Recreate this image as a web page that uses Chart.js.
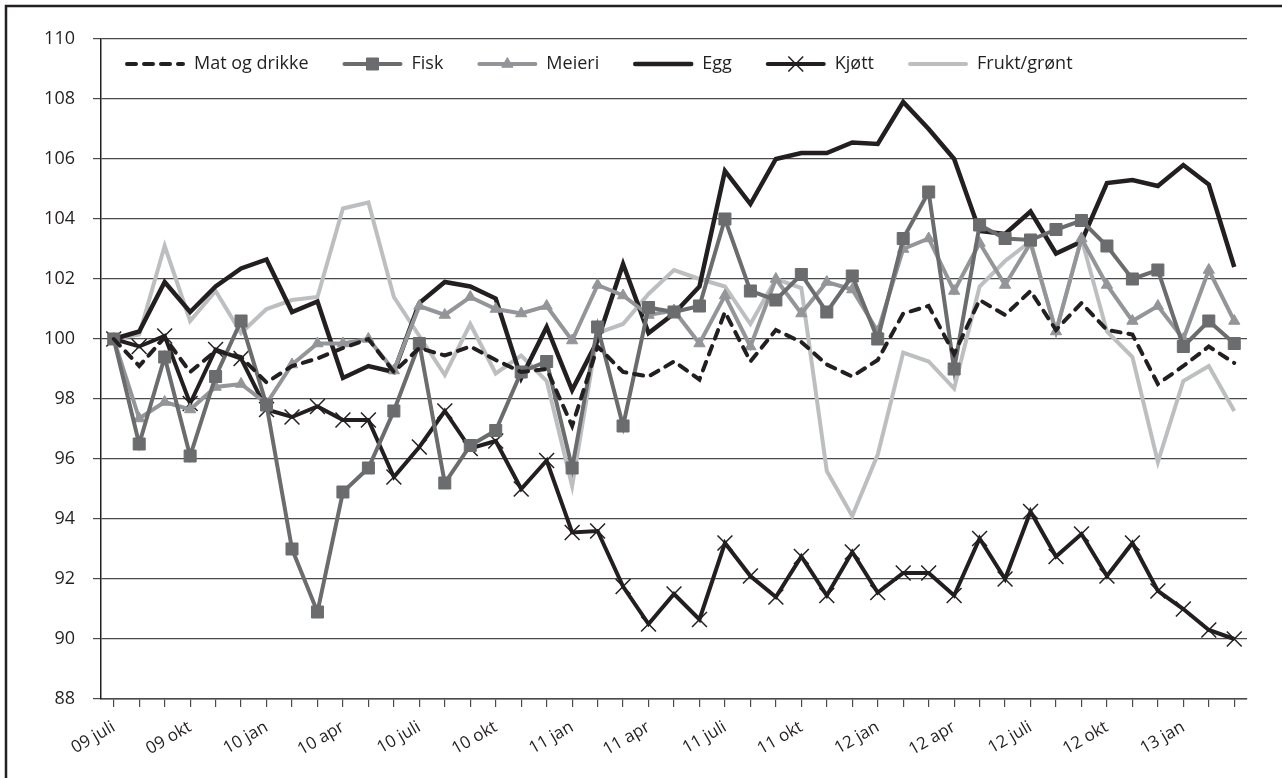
<!DOCTYPE html>
<html lang="no">
<head>
  <meta charset="UTF-8">
  <title>Prisindeks matvarer</title>
  <script src="https://cdn.jsdelivr.net/npm/chart.js"></script>
  <style>
    body { margin: 0; background: #fff; }
    #wrap { width: 1282px; height: 778px; }
  </style>
</head>
<body>
  <div id="wrap"><canvas id="chart" width="1282" height="778"></canvas></div>

  <script>
    // månedsetiketter, juli 2009 - mars 2013
    const labels = [
      '09 juli', '09 aug', '09 sep', '09 okt', '09 nov', '09 des',
      '10 jan', '10 feb', '10 mars', '10 apr', '10 mai', '10 juni',
      '10 juli', '10 aug', '10 sep', '10 okt', '10 nov', '10 des',
      '11 jan', '11 feb', '11 mars', '11 apr', '11 mai', '11 juni',
      '11 juli', '11 aug', '11 sep', '11 okt', '11 nov', '11 des',
      '12 jan', '12 feb', '12 mars', '12 apr', '12 mai', '12 juni',
      '12 juli', '12 aug', '12 sep', '12 okt', '12 nov', '12 des',
      '13 jan', '13 feb', '13 mars'
    ];

    const matOgDrikke = [100, 99.1, 100.05, 98.9, 99.6, 99.4, 98.55, 99.1, 99.35, 99.7,
      100.0, 98.9, 99.7, 99.45, 99.75, 99.3, 98.9, 99.0, 97.1, 99.75,
      98.9, 98.75, 99.25, 98.65, 100.9, 99.25, 100.3, 99.9, 99.15, 98.75,
      99.3, 100.85, 101.1, 99.5, 101.3, 100.8, 101.6, 100.3, 101.2, 100.3,
      100.15, 98.5, 99.1, 99.75, 99.2];

    const fisk = [100, 96.5, 99.4, 96.1, 98.75, 100.6, 97.8, 93.0, 90.9, 94.9,
      95.7, 97.6, 99.85, 95.2, 96.45, 96.95, 98.9, 99.25, 95.7, 100.4,
      97.1, 101.05, 100.9, 101.1, 104.0, 101.6, 101.3, 102.15, 100.9, 102.1,
      100.0, 103.35, 104.9, 99.0, 103.8, 103.35, 103.3, 103.65, 103.95, 103.1,
      102.0, 102.3, 99.75, 100.6, 99.85];

    const meieri = [100, 97.35, 97.9, 97.65, 98.4, 98.5, 97.85, 99.15, 99.85, 99.85,
      100.0, 98.95, 101.1, 100.8, 101.4, 101.0, 100.85, 101.1, 99.95, 101.8,
      101.45, 100.8, 100.95, 99.85, 101.45, 99.75, 102.0, 100.85, 101.9, 101.65,
      100.25, 103.0, 103.35, 101.6, 103.2, 101.8, 103.2, 100.25, 103.35, 101.8,
      100.6, 101.1, 100.0, 102.3, 100.6];

    const egg = [100, 100.25, 101.9, 100.9, 101.75, 102.35, 102.65, 100.9, 101.25, 98.7,
      99.1, 98.9, 101.2, 101.9, 101.75, 101.35, 98.7, 100.4, 98.3, 99.95,
      102.5, 100.2, 100.85, 101.75, 105.6, 104.5, 106.0, 106.2, 106.2, 106.55,
      106.5, 107.9, 107.0, 106.0, 103.6, 103.5, 104.25, 102.85, 103.25, 105.2,
      105.3, 105.1, 105.8, 105.15, 102.4];

    const kjott = [100, 99.75, 100.1, 97.85, 99.65, 99.35, 97.65, 97.4, 97.75, 97.3,
      97.3, 95.4, 96.4, 97.6, 96.35, 96.6, 95.0, 95.95, 93.55, 93.6,
      91.75, 90.5, 91.5, 90.65, 93.2, 92.1, 91.4, 92.75, 91.45, 92.9,
      91.55, 92.2, 92.2, 91.45, 93.35, 92.0, 94.25, 92.75, 93.5, 92.1,
      93.2, 91.6, 91.0, 90.3, 90.0];

    const fruktGront = [100, 100.15, 103.1, 100.6, 101.6, 100.2, 101.0, 101.3, 101.4, 104.35,
      104.55, 101.4, 100.1, 98.8, 100.5, 98.85, 99.45, 98.6, 95.1, 100.2,
      100.5, 101.5, 102.3, 102.0, 101.75, 100.5, 102.0, 101.7, 95.6, 94.1,
      96.15, 99.55, 99.25, 98.35, 101.75, 102.6, 103.25, 100.25, 103.35, 100.25,
      99.4, 95.9, 98.6, 99.1, 97.6];

    const FONT = '"Open Sans", "Noto Sans", sans-serif';
    const INK = '#231f20';

    // ramme rundt hele figuren
    const frame = {
      id: 'frame',
      beforeDraw(chart) {
        const ctx = chart.ctx;
        ctx.save();
        ctx.fillStyle = '#fff';
        ctx.fillRect(0, 0, chart.width, chart.height);
        ctx.strokeStyle = INK;
        ctx.lineWidth = 2.5;
        ctx.strokeRect(6, 6, chart.width + 10, chart.height + 10);
        ctx.restore();
      }
    };

    // forklaring inne i plotteområdet, slik som i Excel
    const innerLegend = {
      id: 'innerLegend',
      afterDatasetsDraw(chart) {
        const ctx = chart.ctx;
        const area = chart.chartArea;
        let x = area.left + 26;
        const y = area.top + 25;
        ctx.save();
        ctx.font = '18px ' + FONT;
        ctx.textBaseline = 'middle';
        chart.data.datasets.forEach(ds => {
          ctx.strokeStyle = ds.borderColor;
          ctx.lineWidth = ds.borderWidth;
          ctx.lineCap = 'round';
          ctx.setLineDash(ds.borderDash || []);
          ctx.beginPath();
          ctx.moveTo(x, y);
          ctx.lineTo(x + 56, y);
          ctx.stroke();
          ctx.setLineDash([]);
          if (ds.pointRadius > 0) {
            ctx.fillStyle = ds.pointBackgroundColor;
            ctx.strokeStyle = ds.pointBorderColor;
            ctx.lineWidth = ds.pointBorderWidth;
            ctx.lineCap = 'butt';
            Chart.helpers.drawPoint(ctx, {
              pointStyle: ds.pointStyle, radius: ds.pointRadius,
              borderWidth: ds.pointBorderWidth, rotation: 0
            }, x + 28, y);
          }
          ctx.fillStyle = INK;
          ctx.fillText(ds.label, x + 67, y);
          x += 67 + ctx.measureText(ds.label).width + 36;
        });
        ctx.restore();
      }
    };

    function line(label, data, color, extra) {
      return Object.assign({
        label: label,
        data: data,
        borderColor: color,
        backgroundColor: color,
        borderWidth: 4,
        pointRadius: 0,
        pointHoverRadius: 0,
        pointBackgroundColor: color,
        pointBorderColor: color,
        pointBorderWidth: 1,
        tension: 0,
        fill: false
      }, extra || {});
    }

    new Chart(document.getElementById('chart'), {
      type: 'line',
      data: {
        labels: labels,
        datasets: [
          line('Mat og drikke', matOgDrikke, INK, { borderDash: [9, 8], borderCapStyle: 'round', borderWidth: 4 }),
          line('Fisk', fisk, '#6b6c6e', { pointStyle: 'rect', pointRadius: 8.5 }),
          line('Meieri', meieri, '#939598', { pointStyle: 'triangle', pointRadius: 6.5 }),
          line('Egg', egg, INK, { borderWidth: 4.5 }),
          line('Kjøtt', kjott, INK, { pointStyle: 'crossRot', pointRadius: 10.5, pointBorderWidth: 1.5 }),
          line('Frukt/grønt', fruktGront, '#bcbec0')
        ]
      },
      options: {
        responsive: false,
        animation: false,
        layout: { padding: { top: 39, right: 35, left: 0, bottom: 0 } },
        plugins: {
          legend: { display: false },
          tooltip: { enabled: false }
        },
        scales: {
          x: {
            offset: true,
            afterFit: s => { s.height = 79; },
            grid: {
              drawOnChartArea: false,
              drawTicks: true,
              tickLength: 8,
              color: '#4a4a4a',
              lineWidth: 1.2
            },
            border: { display: true, color: '#4a4a4a', width: 1.5 },
            ticks: {
              autoSkip: false,
              minRotation: 30,
              maxRotation: 30,
              padding: 10,
              color: INK,
              font: { family: FONT, size: 17 },
              callback: (v, i) => (i % 3 === 0 ? labels[i] : '')
            }
          },
          y: {
            min: 88,
            max: 110,
            afterFit: s => { s.width = 101; },
            grid: {
              color: '#4a4a4a',
              lineWidth: 1.2,
              drawTicks: true,
              tickLength: 8
            },
            border: { display: true, color: INK, width: 1.5 },
            ticks: {
              stepSize: 2,
              padding: 18,
              color: INK,
              font: { family: FONT, size: 18 }
            }
          }
        }
      },
      plugins: [frame, innerLegend]
    });
  </script>
</body>
</html>
